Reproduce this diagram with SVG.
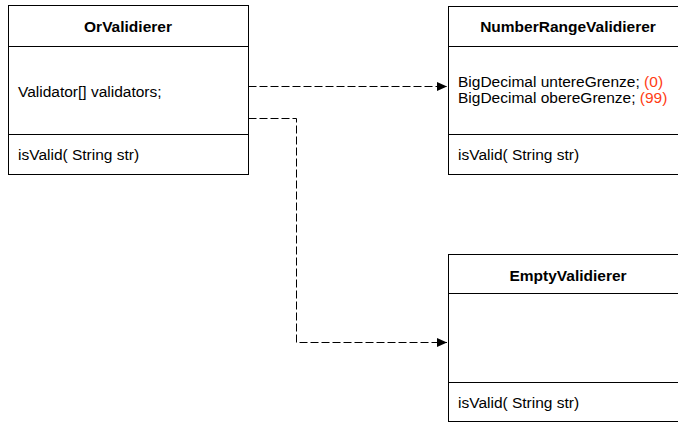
<svg xmlns="http://www.w3.org/2000/svg" width="678" height="423" viewBox="0 0 678 423">
<style>
.box{fill:#fff;stroke:#000;stroke-width:1}
.ln{stroke:#000;stroke-width:1}
text{font-family:"Liberation Sans",Arial,sans-serif;font-size:15.5px;fill:#000}
.t{font-weight:bold;text-anchor:middle}
.r{fill:#ff3c14}
.c{fill:none;stroke:#000;stroke-width:1;stroke-dasharray:8,3}
</style>
<defs>
<marker id="ah" markerWidth="11" markerHeight="9" refX="10" refY="4.5" orient="auto" markerUnits="userSpaceOnUse">
<path d="M0,0 L10,4.5 L0,9 Z" fill="#000"/>
</marker>
</defs>
<rect width="678" height="423" fill="#fff"/>
<g id="connectors">
<path class="c" d="M248.5,86.5 H447" marker-end="url(#ah)"/>
<path class="c" d="M248.5,118.5 H296.5 V342.5 H447" marker-end="url(#ah)"/>
</g>
<g id="OrValidierer">
<rect class="box" x="8.5" y="5.5" width="240" height="169"/>
<line class="ln" x1="8.5" y1="46.5" x2="248.5" y2="46.5"/>
<line class="ln" x1="8.5" y1="134.5" x2="248.5" y2="134.5"/>
<text class="t" x="128" y="32">OrValidierer</text>
<text x="18" y="97">Validator[] validators;</text>
<text x="18" y="160">isValid( String str)</text>
</g>
<g id="NumberRangeValidierer">
<rect class="box" x="448.5" y="6.5" width="240" height="168"/>
<line class="ln" x1="448.5" y1="46.5" x2="688.5" y2="46.5"/>
<line class="ln" x1="448.5" y1="134.5" x2="688.5" y2="134.5"/>
<text class="t" x="568" y="32">NumberRangeValidierer</text>
<text x="458" y="87">BigDecimal untereGrenze; <tspan class="r">(0)</tspan></text>
<text x="458" y="103">BigDecimal obereGrenze; <tspan class="r">(99)</tspan></text>
<text x="458" y="160">isValid( String str)</text>
</g>
<g id="EmptyValidierer">
<rect class="box" x="448.5" y="254.5" width="240" height="167"/>
<line class="ln" x1="448.5" y1="293.5" x2="688.5" y2="293.5"/>
<line class="ln" x1="448.5" y1="382.5" x2="688.5" y2="382.5"/>
<text class="t" x="568" y="281">EmptyValidierer</text>
<text x="458" y="408">isValid( String str)</text>
</g>
</svg>
